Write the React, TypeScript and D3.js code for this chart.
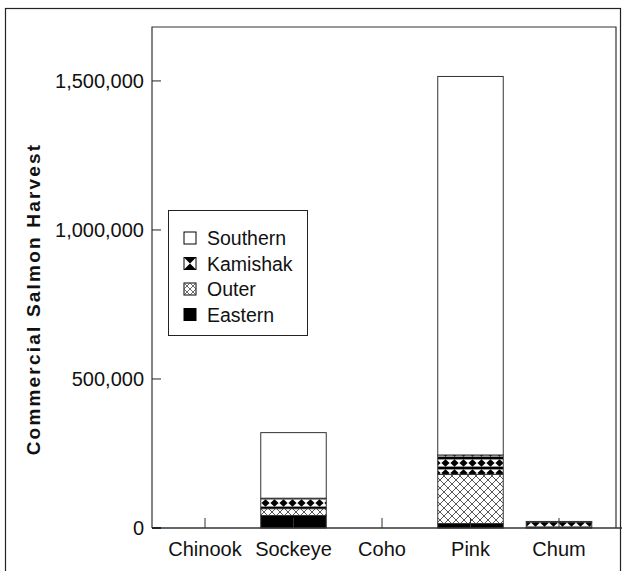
import React from "react";
import * as d3 from "d3";

const categories = ["Chinook", "Sockeye", "Coho", "Pink", "Chum"];
const eastern = [0, 42000, 0, 15000, 500];
const outer = [0, 23000, 0, 165000, 1500];
const kamishak = [0, 35000, 0, 65000, 18000];
const southern = [0, 220000, 0, 1270000, 2000];
const yTicks = [0, 500000, 1000000, 1500000];
const seriesKeys = ["Eastern", "Outer", "Kamishak", "Southern"];
const legendOrder = ["Southern", "Kamishak", "Outer", "Eastern"];
const yTitle = "Commercial Salmon Harvest";

const W = 622;
const H = 571;
const plotLeft = 152;
const plotRight = 616;
const plotTop = 27;
const plotBottom = 528;
const FONT = "'Liberation Sans', Arial, Helvetica, sans-serif";

const fills: Record<string, string> = {
  Southern: "#ffffff",
  Kamishak: "url(#pat-kamishak)",
  Outer: "url(#pat-outer)",
  Eastern: "#000000",
};

export default function App() {
  const rows = categories.map((c, i) => ({
    cat: c,
    Eastern: eastern[i],
    Outer: outer[i],
    Kamishak: kamishak[i],
    Southern: southern[i],
  }));
  const stacked = d3.stack<any>().keys(seriesKeys)(rows);

  const x = d3
    .scaleBand<string>()
    .domain(categories)
    .range([160.75, 603.25])
    .paddingInner(0.26)
    .paddingOuter(0.13);
  const y = d3.scaleLinear().domain([0, 1681000]).range([plotBottom, plotTop]);
  const fmt = d3.format(",");

  const lx = 168;
  const ly = 210;
  const lw = 139;
  const lh = 125;
  const rowH = 25.5;
  const sw = 12;

  return (
    <svg
      width={W}
      height={H}
      style={{ position: "absolute", left: 0, top: 0, background: "#fff" }}
      fontFamily={FONT}
    >
      <defs>
        <pattern id="pat-kamishak" patternUnits="userSpaceOnUse" width={9} height={10} x={0} y={498}>
          <rect width={9} height={10} fill="#fff" />
          <rect width={9} height={1.4} fill="#000" />
          <rect y={8.6} width={9} height={1.4} fill="#000" />
          <path d="M4.5,1.2 L8.6,5 L4.5,8.8 L0.4,5 Z" fill="#000" />
        </pattern>
        <pattern id="pat-outer" patternUnits="userSpaceOnUse" width={8} height={8}>
          <rect width={8} height={8} fill="#fff" />
          <path d="M0,0 L8,8 M8,0 L0,8" stroke="#444" strokeWidth={0.9} />
        </pattern>
      </defs>

      {/* outer frame */}
      <rect x={5.5} y={8.5} width={615} height={600} fill="none" stroke="#222" strokeWidth={1.2} />

      {/* plot frame */}
      <path
        d={`M${plotLeft},${plotBottom} L${plotLeft},${plotTop} L${plotRight},${plotTop} L${plotRight},${plotBottom}`}
        fill="none"
        stroke="#333"
        strokeWidth={1.2}
      />

      {/* bars */}
      {stacked.map((s) => (
        <g key={s.key}>
          {s.map((d, i) => {
            const h = y(d[0]) - y(d[1]);
            if (h <= 0) return null;
            return (
              <rect
                key={i}
                x={x(categories[i])!}
                y={y(d[1])}
                width={x.bandwidth()}
                height={h}
                fill={fills[s.key]}
                stroke="#333"
                strokeWidth={1}
              />
            );
          })}
        </g>
      ))}

      {/* x axis */}
      <line x1={plotLeft} x2={622} y1={plotBottom} y2={plotBottom} stroke="#333" strokeWidth={1.3} />
      {categories.map((c) => {
        const cx = x(c)! + x.bandwidth() / 2;
        return (
          <g key={c}>
            <line x1={cx} x2={cx} y1={plotBottom} y2={plotBottom - 10} stroke="#333" strokeWidth={1} />
            <text x={cx} y={plotBottom + 28} textAnchor="middle" fontSize={20} fill="#111">
              {c}
            </text>
          </g>
        );
      })}

      {/* y axis */}
      {yTicks.map((t) => (
        <g key={t}>
          <line x1={plotLeft} x2={plotLeft + 9} y1={y(t)} y2={y(t)} stroke="#222" strokeWidth={t === 0 ? 2 : 1} />
          <text x={plotLeft - 8} y={y(t)} dy="0.35em" textAnchor="end" fontSize={20} fill="#111">
            {fmt(t)}
          </text>
        </g>
      ))}
      <text
        transform={`translate(40,299) rotate(-90)`}
        textAnchor="middle"
        fontSize={19}
        fontWeight="bold"
        letterSpacing={2.2}
        fill="#111"
      >
        {yTitle}
      </text>

      {/* legend */}
      <rect x={lx + 0.5} y={ly + 0.5} width={lw} height={lh} fill="#fff" stroke="#222" strokeWidth={1} />
      {legendOrder.map((k, i) => {
        const cy = ly + 28 + i * rowH;
        const sx = lx + 16;
        const sy = cy - sw / 2;
        return (
          <g key={k}>
            {k === "Southern" && (
              <rect x={sx} y={sy} width={sw} height={sw} fill="#fff" stroke="#000" strokeWidth={1} />
            )}
            {k === "Kamishak" && (
              <g>
                <rect x={sx} y={sy} width={sw} height={sw} fill="#fff" stroke="#000" strokeWidth={1} />
                <path
                  d={`M${sx},${sy} L${sx + sw},${sy} L${sx + sw / 2},${sy + sw / 2} Z M${sx},${sy + sw} L${sx + sw},${sy + sw} L${sx + sw / 2},${sy + sw / 2} Z`}
                  fill="#000"
                />
              </g>
            )}
            {k === "Outer" && (
              <g>
                <rect x={sx} y={sy} width={sw} height={sw} fill="#fff" stroke="#000" strokeWidth={1} />
                <path
                  d={`M${sx},${sy} L${sx + sw},${sy + sw} M${sx + sw},${sy} L${sx},${sy + sw} M${sx + sw / 2},${sy} L${sx + sw},${sy + sw / 2} L${sx + sw / 2},${sy + sw} L${sx},${sy + sw / 2} Z`}
                  stroke="#444"
                  strokeWidth={0.8}
                  fill="none"
                />
              </g>
            )}
            {k === "Eastern" && <rect x={sx} y={sy} width={sw} height={sw} fill="#000" stroke="#000" />}
            <text x={lx + 39} y={cy} dy="0.36em" fontSize={19.5} fill="#111">
              {k}
            </text>
          </g>
        );
      })}
    </svg>
  );
}
